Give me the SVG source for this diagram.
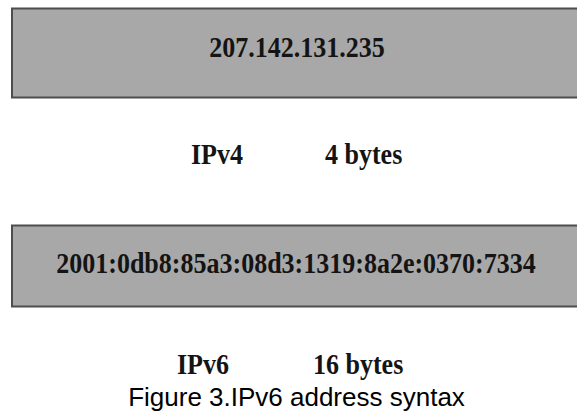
<svg xmlns="http://www.w3.org/2000/svg" width="577" height="412" viewBox="0 0 577 412">
  <style>
    .box { fill: #a8a8a8; stroke: #4d4d4d; stroke-width: 2; }
    .bold { font-family: "Liberation Serif", "Times New Roman", serif; font-weight: bold; font-size: 26px; fill: #141414; }
    .mid { text-anchor: middle; }
    .caption { font-family: "Liberation Sans", Arial, sans-serif; font-size: 26px; fill: #000; text-anchor: middle; }
  </style>
  <rect width="577" height="412" fill="#ffffff"/>

  <!-- IPv4 address bar -->
  <g id="ipv4-box">
    <rect class="box" x="12" y="8.5" width="580" height="89"/>
    <text class="bold mid" transform="translate(297 57) scale(1 1.1)">207.142.131.235</text>
  </g>

  <g id="ipv4-label">
    <text class="bold" transform="translate(191 164) scale(1 1.1)">IPv4</text>
    <text class="bold" transform="translate(325 164) scale(1 1.1)">4 bytes</text>
  </g>

  <!-- IPv6 address bar -->
  <g id="ipv6-box">
    <rect class="box" x="12" y="225.5" width="580" height="81"/>
    <text class="bold mid" transform="translate(296 273) scale(1 1.1)">2001:0db8:85a3:08d3:1319:8a2e:0370:7334</text>
  </g>

  <g id="ipv6-label">
    <text class="bold" transform="translate(177 374) scale(1 1.1)">IPv6</text>
    <text class="bold" transform="translate(313 374) scale(1 1.1)">16 bytes</text>
  </g>

  <g id="connectors"/>

  <text class="caption" x="296.5" y="406">Figure 3.IPv6 address syntax</text>
</svg>
